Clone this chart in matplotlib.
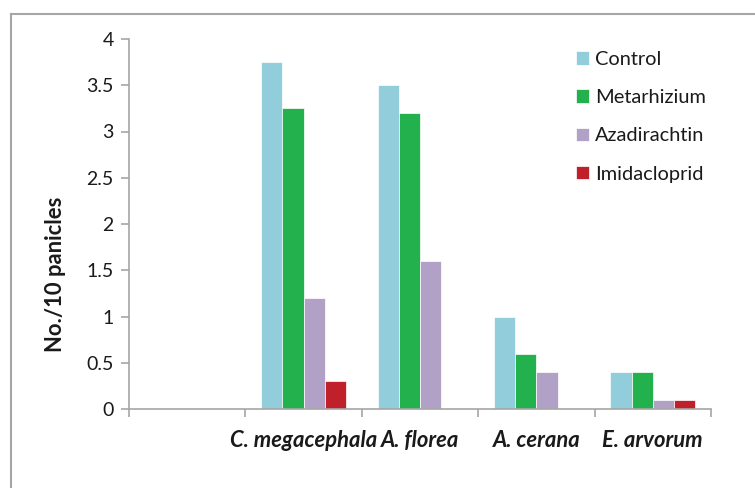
import numpy as np
import matplotlib
matplotlib.use('Agg')
import matplotlib.pyplot as plt
from matplotlib.lines import Line2D

plt.rcParams['font.family'] = ['Lato', 'DejaVu Sans']

categories = ['', 'C. megacephala', 'A. florea', 'A. cerana', 'E. arvorum']
series_names = ['Control', 'Metarhizium', 'Azadirachtin', 'Imidacloprid']
control = [0, 3.75, 3.5, 1.0, 0.4]
metarhizium = [0, 3.25, 3.2, 0.6, 0.4]
azadirachtin = [0, 1.2, 1.6, 0.4, 0.1]
imidacloprid = [0, 0.3, 0, 0, 0.1]
colors = ['#92CDDC', '#22B14C', '#B2A1C7', '#C0202A']

W, H = 755, 488
fig = plt.figure(figsize=(W / 100, H / 100), dpi=100)
ax = fig.add_axes([129 / W, 1 - 409 / H, (711 - 129) / W, (409 - 39) / H])

# outer chart frame (left + top visible)
fig.add_artist(Line2D([11 / W, 11 / W], [0, 1 - 14 / H], color='#A6A6A6', lw=1.5))
fig.add_artist(Line2D([11 / W, 1], [1 - 14 / H, 1 - 14 / H], color='#A6A6A6', lw=1.5))

x = np.arange(len(categories))
bw = 1 / 5.5
data = [control, metarhizium, azadirachtin, imidacloprid]
for i, (vals, name, c) in enumerate(zip(data, series_names, colors)):
    ax.bar(x + (i - 1.5) * bw, vals, bw, color=c, label=name,
           edgecolor='white', linewidth=0.5)

ax.set_xlim(-0.5, len(categories) - 0.5)
ax.set_ylim(0, 4)
ax.set_yticks([0, 0.5, 1, 1.5, 2, 2.5, 3, 3.5, 4])
ax.set_yticklabels(['0', '0.5', '1', '1.5', '2', '2.5', '3', '3.5', '4'], fontsize=14, color='#1a1a1a')

ax.set_xticks(np.arange(len(categories) + 1) - 0.5)
ax.set_xticklabels([])
ax.set_xticks(x, minor=True)
ax.set_xticklabels(categories, minor=True, fontsize=15.8, fontweight='bold',
                   fontstyle='italic', color='#1a1a1a')
ax.tick_params(axis='x', which='minor', length=0, pad=15)
ax.tick_params(axis='x', which='major', length=6, color='#A6A6A6', width=1.2)
ax.tick_params(axis='y', length=6, color='#A6A6A6', width=1.2, pad=5)

for s in ['top', 'right']:
    ax.spines[s].set_visible(False)
for s in ['left', 'bottom']:
    ax.spines[s].set_color('#A6A6A6')
    ax.spines[s].set_linewidth(1.2)

fig.text(55 / W, 1 - 274 / H, 'No./10 panicles', rotation=90, fontsize=15.8,
         fontweight='bold', ha='center', va='center', color='#1a1a1a')

ax.legend(loc='upper left', bbox_to_anchor=(576 / W, 1 - 51 / H),
          bbox_transform=fig.transFigure, frameon=False, fontsize=14.4,
          handlelength=0.66, handleheight=0.66, handletextpad=0.3,
          labelspacing=1.06, borderaxespad=0, borderpad=0,
          labelcolor='#1a1a1a')

fig.savefig('out.png', dpi=100)
